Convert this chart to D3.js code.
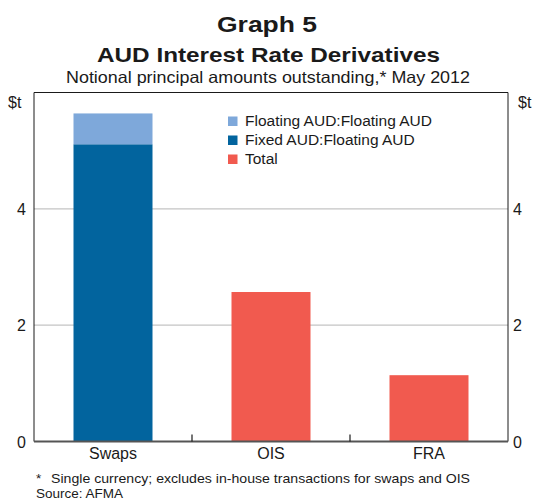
<!DOCTYPE html>
<html>
<head>
<meta charset="utf-8">
<script src="https://cdn.jsdelivr.net/npm/d3@7/dist/d3.min.js"></script>
<style>
  html, body { margin: 0; padding: 0; background: #fff; }
  svg { display: block; font-family: Arial, "Liberation Sans", Helvetica, sans-serif; }
</style>
</head>
<body>
<svg id="chart" width="535" height="501"></svg>
<script>
// ---- Data ----
const categories = ["Swaps", "OIS", "FRA"];
const fixedAUD = [5.11, 0, 0];        // Fixed AUD:Floating AUD
const floatingAUD = [0.53, 0, 0];     // Floating AUD:Floating AUD
const total = [0, 2.57, 1.14];        // Total
const yTicks = [0, 2, 4];
const seriesNames = ["Floating AUD:Floating AUD", "Fixed AUD:Floating AUD", "Total"];
const seriesColors = ["#7ea8da", "#02649e", "#f15a4f"];

(function () {
// ---- Layout ----
const svg = d3.select("#chart");
const pl = 34, pr = 508, pt = 92.5, pb = 441.5;

const x = d3.scaleBand().domain(categories).range([pl, pr]).paddingInner(0.5).paddingOuter(0.25);
const y = d3.scaleLinear().domain([0, 6]).range([pb, pt]);

// titles
svg.append("text").attr("x", 267).attr("y", 31.5).attr("text-anchor", "middle")
  .attr("font-size", 22).attr("font-weight", "bold").attr("fill", "#1a1a1a")
  .attr("textLength", 100).attr("lengthAdjust", "spacingAndGlyphs").text("Graph 5");
svg.append("text").attr("x", 268.5).attr("y", 61.5).attr("text-anchor", "middle")
  .attr("font-size", 20.5).attr("font-weight", "bold").attr("fill", "#1a1a1a")
  .attr("textLength", 343).attr("lengthAdjust", "spacingAndGlyphs").text("AUD Interest Rate Derivatives");
svg.append("text").attr("x", 268).attr("y", 83).attr("text-anchor", "middle")
  .attr("font-size", 16.5).attr("fill", "#1a1a1a")
  .attr("textLength", 404).attr("lengthAdjust", "spacingAndGlyphs")
  .text("Notional principal amounts outstanding,* May 2012");

// gridlines
svg.append("g").selectAll("line").data(yTicks.filter(d => d > 0)).join("line")
  .attr("x1", pl).attr("x2", pr)
  .attr("y1", d => y(d)).attr("y2", d => y(d))
  .attr("stroke", "#c4c4c4").attr("stroke-width", 1.2);

// bars
const g = svg.append("g");
g.selectAll("rect.fixed").data(categories).join("rect").attr("class", "fixed")
  .attr("x", d => x(d)).attr("width", x.bandwidth())
  .attr("y", (d, i) => y(fixedAUD[i])).attr("height", (d, i) => y(0) - y(fixedAUD[i]))
  .attr("fill", seriesColors[1]);
g.selectAll("rect.float").data(categories).join("rect").attr("class", "float")
  .attr("x", d => x(d)).attr("width", x.bandwidth())
  .attr("y", (d, i) => y(fixedAUD[i] + floatingAUD[i]))
  .attr("height", (d, i) => floatingAUD[i] > 0 ? y(fixedAUD[i]) - y(fixedAUD[i] + floatingAUD[i]) : 0)
  .attr("fill", seriesColors[0]);
g.selectAll("rect.total").data(categories).join("rect").attr("class", "total")
  .attr("x", d => x(d)).attr("width", x.bandwidth())
  .attr("y", (d, i) => y(total[i])).attr("height", (d, i) => y(0) - y(total[i]))
  .attr("fill", seriesColors[2]);

// frame
svg.append("line").attr("x1", pl).attr("x2", pr).attr("y1", pt).attr("y2", pt)
  .attr("stroke", "#1a1a1a").attr("stroke-width", 1);
svg.append("line").attr("x1", pl).attr("x2", pl).attr("y1", pt).attr("y2", pb)
  .attr("stroke", "#1a1a1a").attr("stroke-width", 1);
svg.append("line").attr("x1", pr).attr("x2", pr).attr("y1", pt).attr("y2", pb)
  .attr("stroke", "#1a1a1a").attr("stroke-width", 1);

// x axis
const xAxisG = svg.append("g").attr("transform", `translate(0,${pb})`);
xAxisG.append("line").attr("x1", pl).attr("x2", pr).attr("stroke", "#555").attr("stroke-width", 1.8);
const bounds = categories.slice(1).map(c => x(c) - x.step() * x.paddingInner() / 2);
xAxisG.selectAll("line.tk").data(bounds).join("line").attr("class", "tk")
  .attr("x1", d => d).attr("x2", d => d).attr("y1", 0).attr("y2", -7)
  .attr("stroke", "#1a1a1a").attr("stroke-width", 1.2);
xAxisG.selectAll("text").data(categories).join("text")
  .attr("x", d => x(d) + x.bandwidth() / 2).attr("y", 17)
  .attr("text-anchor", "middle").attr("font-size", 16).attr("fill", "#1a1a1a").text(d => d);

// y axes labels
const yL = svg.append("g");
yL.selectAll("text").data(yTicks).join("text")
  .attr("x", 26).attr("y", d => y(d) + 6).attr("text-anchor", "end")
  .attr("font-size", 16).attr("fill", "#1a1a1a").text(d => d);
const yR = svg.append("g");
yR.selectAll("text").data(yTicks).join("text")
  .attr("x", 513).attr("y", d => y(d) + 6).attr("text-anchor", "start")
  .attr("font-size", 16).attr("fill", "#1a1a1a").text(d => d);
svg.append("text").attr("x", 8).attr("y", 108).attr("font-size", 16).attr("fill", "#1a1a1a").text("$t");
svg.append("text").attr("x", 518).attr("y", 108).attr("font-size", 16).attr("fill", "#1a1a1a").text("$t");

// legend
const leg = svg.append("g");
seriesNames.forEach((name, i) => {
  const by = 126 + i * 19;
  leg.append("rect").attr("x", 228).attr("y", by - 9.5).attr("width", 9.5).attr("height", 9.5)
    .attr("fill", seriesColors[i]);
  leg.append("text").attr("x", 245).attr("y", by).attr("font-size", 15.5).attr("fill", "#1a1a1a").text(name);
});

// footnotes
svg.append("text").attr("x", 36).attr("y", 482.5).attr("font-size", 13.5).attr("fill", "#1a1a1a").text("*");
svg.append("text").attr("x", 51).attr("y", 482.5).attr("font-size", 13.5).attr("fill", "#1a1a1a")
  .attr("textLength", 419).attr("lengthAdjust", "spacingAndGlyphs")
  .text("Single currency; excludes in-house transactions for swaps and OIS");
svg.append("text").attr("x", 36).attr("y", 498).attr("font-size", 13.5).attr("fill", "#1a1a1a").text("Source: AFMA");
})();
</script>
</body>
</html>
